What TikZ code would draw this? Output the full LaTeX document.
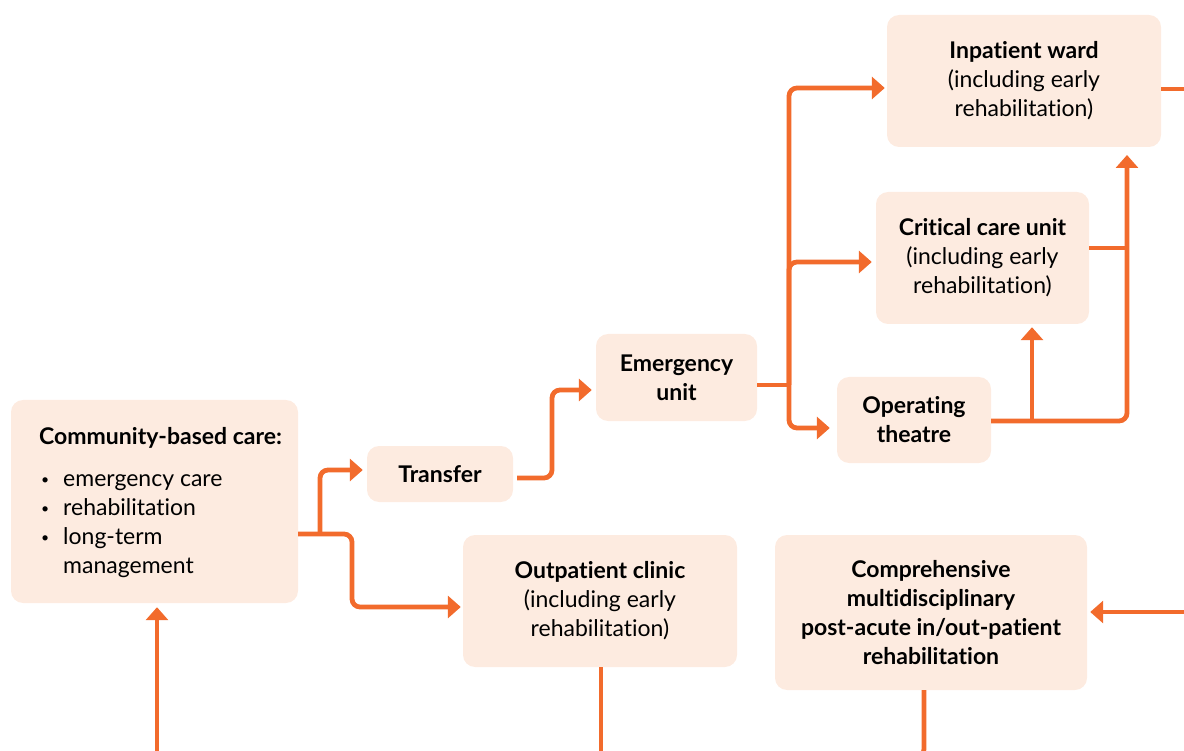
\documentclass[tikz,border=0pt]{standalone}
\usepackage{fontspec}
\setmainfont{Lato}[Ligatures=NoCommon]
\usetikzlibrary{arrows.meta}
\definecolor{orn}{HTML}{F26B2C}
\definecolor{boxc}{HTML}{FDEBE0}
\newcommand{\mybul}{\hspace{2pt}\raisebox{2.5pt}{\fontsize{14}{14}\selectfont\textbullet}}
\begin{document}
\begin{tikzpicture}[x=1pt,y=-1pt,
  box/.style={fill=boxc, rounded corners=12pt, inner sep=0pt, align=center,
    font=\fontsize{23}{29}\selectfont, text=black},
  conn/.style={draw=orn, line width=4.8pt, rounded corners=8pt},
  arr/.style={conn, -{Triangle[length=13pt,width=22pt]}}
]
\useasboundingbox (0,0) rectangle (1184,751);
\clip (0,0) rectangle (1184,751);

% boxes
\node[box, minimum width=274pt, minimum height=132pt] (inp) at (1024,81)
  {\textbf{Inpatient ward}\\(including early\\rehabilitation)};
\node[box, minimum width=213pt, minimum height=132pt] (crit) at (982.5,258)
  {\textbf{Critical care unit}\\(including early\\rehabilitation)};
\node[box, minimum width=154pt, minimum height=86pt] (op) at (914,420)
  {\textbf{Operating}\\\textbf{theatre}};
\node[box, minimum width=161pt, minimum height=87pt] (em) at (676.5,377.5)
  {\textbf{Emergency}\\\textbf{unit}};
\node[box, minimum width=146pt, minimum height=56pt] (tr) at (440,474)
  {\textbf{Transfer}};
\node[box, minimum width=287pt, minimum height=203pt] (com) at (154.5,501.5) {};
\node[anchor=north west, inner sep=0pt, font=\fontsize{23}{29}\selectfont] (comtxt) at (39,424)
  {\begin{tabular}{@{}p{24pt}@{}l@{}}
   \multicolumn{2}{@{}l@{}}{\textbf{Community-based care:}}\\[13pt]
   \mybul & emergency care\\
   \mybul & rehabilitation\\
   \mybul & long-term\\
   & management
   \end{tabular}};
\node[box, minimum width=274pt, minimum height=132pt] (out) at (600,601)
  {\textbf{Outpatient clinic}\\(including early\\rehabilitation)};
\node[box, minimum width=312pt, minimum height=155pt] (comp) at (931,612.5)
  {\textbf{Comprehensive}\\\textbf{multidisciplinary}\\\textbf{post-acute in/out-patient}\\\textbf{rehabilitation}};

% junction / edge coordinates
\coordinate (c1) at (320,534);
\coordinate (c2) at (352,534);
\coordinate (c3) at (552,478);
\coordinate (t) at (789,385);
\coordinate (r) at (1127,421);
\coordinate (ru) at (1127,155);
\coordinate (cr) at (1127,248);
\coordinate (b) at (1032,421);
\coordinate (e1) at (1192,89);
\coordinate (e2) at (1192,612);
\coordinate (e3) at (157,762);
\coordinate (e4) at (601,762);
\coordinate (e5) at (924,757);
\coordinate (e6) at (880,757);

% connectors
\draw[arr, shorten >=2pt] (com.east |- c1) -- (c2) |- ([yshift=-6pt]out.west);
\draw[arr, shorten >=4pt] (c1) |- ([yshift=4pt]tr.west);
\draw[arr, shorten >=4pt] ([yshift=-4pt,xshift=4pt]tr.east) -- (c3) |- ([yshift=-12.5pt]em.west);
\draw[conn] ([yshift=-7.5pt]em.east) -- (t);
\draw[arr, shorten >=2pt] (t) |- ([yshift=-7pt]inp.west);
\draw[arr, shorten >=4pt] (t) |- ([yshift=-4pt]crit.west);
\draw[arr, shorten >=7pt] (t) |- ([yshift=-8pt]op.west);
\draw[arr] (op.east |- r) -- (r) -- (ru);
\draw[conn] (crit.east |- cr) -- (cr);
\draw[arr, shorten >=3pt] (b) -- (b |- crit.south);
\draw[conn] (inp.east |- e1) -- (e1);
\draw[arr, shorten >=3pt] (e2) -- (comp.east |- e2);
\draw[arr, shorten >=4pt] (e3) -- (com.south -| e3);
\draw[conn] (out.south -| e4) -- (e4);
\draw[conn] (comp.south -| e5) -- (e5) -- (e6);
\end{tikzpicture}
\end{document}
